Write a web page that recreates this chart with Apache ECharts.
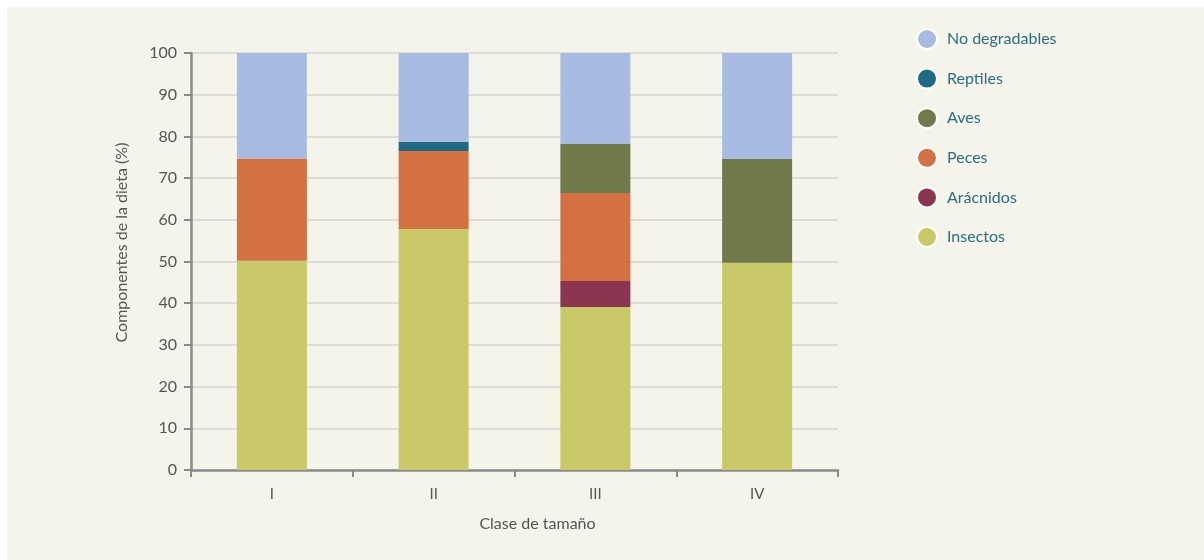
<!DOCTYPE html>
<html>
<head>
<meta charset="utf-8">
<script src="https://cdn.jsdelivr.net/npm/echarts@6/dist/echarts.min.js"></script>
<style>
  html, body { margin: 0; padding: 0; background: #ffffff; }
  #chart { width: 1204px; height: 560px; }
</style>
</head>
<body>
<div id="chart"></div>
<script>
// Size classes on the x axis
const categories = ['I', 'II', 'III', 'IV'];

// Diet components (%) per size class, stacked from the bottom up
const insectos      = [50.2, 57.8, 39.1, 49.7];
const aracnidos     = [0,    0,    6.2,  0];
const peces         = [24.5, 18.7, 21.1, 0];
const aves          = [0,    0,    11.8, 24.9];
const reptiles      = [0,    2.2,  0,    0];
const noDegradables = [25.3, 21.3, 21.8, 25.4];

const yTicks = { min: 0, max: 100, interval: 10 };

const seriesDefs = [
  { name: 'Insectos',       data: insectos,      color: '#c9c96a' },
  { name: 'Arácnidos',      data: aracnidos,     color: '#8b3550' },
  { name: 'Peces',          data: peces,         color: '#d37143' },
  { name: 'Aves',           data: aves,          color: '#717a4a' },
  { name: 'Reptiles',       data: reptiles,      color: '#1e6a82' },
  { name: 'No degradables', data: noDegradables, color: '#a8bbe2' }
];

const axisGray = '#8a8a8a';
const labelGray = '#555555';
const font = 'Lato, "Open Sans", sans-serif';

const chart = echarts.init(document.getElementById('chart'), null, { renderer: 'canvas' });

chart.setOption({
  backgroundColor: '#ffffff',
  animation: false,
  textStyle: { fontFamily: font },
  graphic: [{
    type: 'rect',
    z: -10,
    silent: true,
    shape: { x: 7, y: 7, width: 1204, height: 560 },
    style: { fill: '#f5f4ea' }
  }],
  legend: {
    orient: 'vertical',
    left: 911,
    top: 23,
    icon: 'circle',
    itemWidth: 20,
    itemHeight: 20,
    itemGap: 17.6,
    itemStyle: { borderColor: '#ffffff', borderWidth: 2 },
    textStyle: { color: '#2a6f80', fontSize: 16, fontFamily: font, padding: [0, 0, 0, 5] },
    data: ['No degradables', 'Reptiles', 'Aves', 'Peces', 'Arácnidos', 'Insectos']
  },
  grid: { left: 191, top: 53, right: 366, bottom: 90, containLabel: false },
  xAxis: {
    type: 'category',
    data: categories,
    name: 'Clase de tamaño',
    nameLocation: 'middle',
    nameGap: 46,
    nameTextStyle: { color: labelGray, fontSize: 16, fontFamily: font, padding: [0, 0, 0, 46] },
    axisLine: { show: true, lineStyle: { color: axisGray, width: 2.5 } },
    axisTick: { show: true, alignWithLabel: false, length: 7, lineStyle: { color: axisGray, width: 2 } },
    axisLabel: { color: labelGray, fontSize: 15, margin: 17, fontFamily: font },
    splitLine: { show: false }
  },
  yAxis: {
    type: 'value',
    min: yTicks.min,
    max: yTicks.max,
    interval: yTicks.interval,
    name: 'Componentes de la dieta (%)',
    nameLocation: 'middle',
    nameGap: 61,
    nameTextStyle: { color: labelGray, fontSize: 16, fontFamily: font, padding: [0, 0, 0, 38] },
    axisLine: { show: true, lineStyle: { color: axisGray, width: 2.5 } },
    axisTick: { show: true, length: 7, lineStyle: { color: axisGray, width: 2 } },
    axisLabel: { color: labelGray, fontSize: 16, margin: 14, fontFamily: font },
    splitLine: { show: true, lineStyle: { color: '#d4d4d0', width: 1.5 } }
  },
  series: seriesDefs.map(s => ({
    name: s.name,
    type: 'bar',
    stack: 'dieta',
    barWidth: 70,
    data: s.data,
    itemStyle: { color: s.color },
    emphasis: { disabled: true }
  }))
});
</script>
</body>
</html>
